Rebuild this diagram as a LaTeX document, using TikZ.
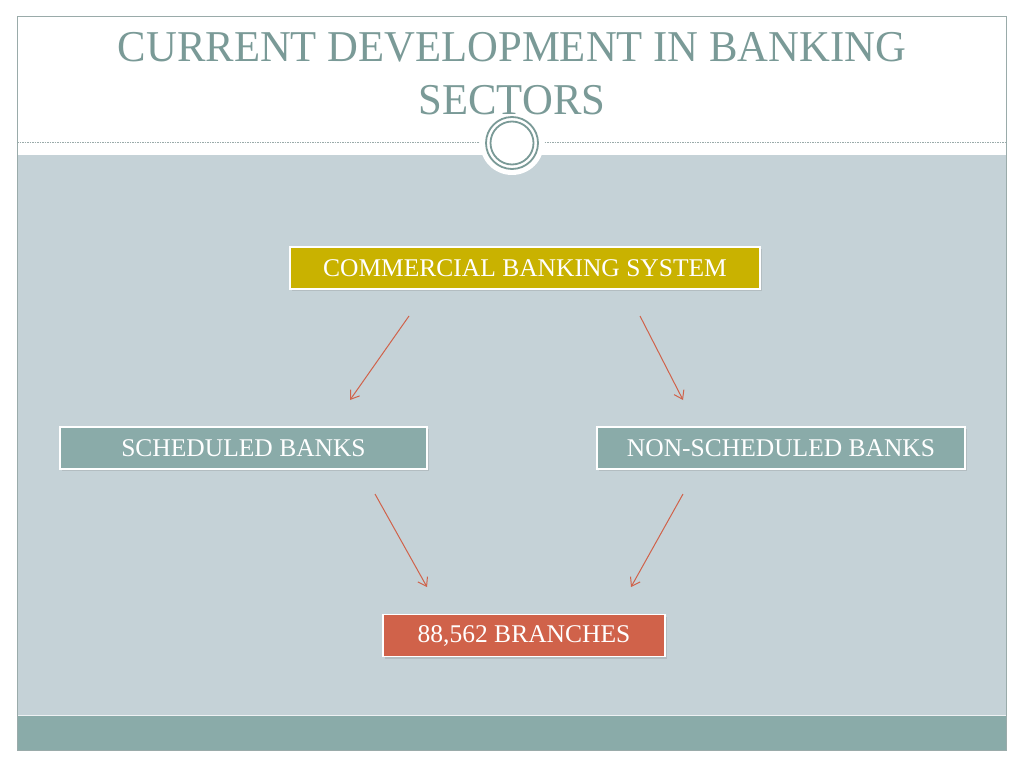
\documentclass[tikz,border=0pt]{standalone}
\usepackage{fontspec}
\setmainfont{Liberation Serif}
\usetikzlibrary{arrows.meta,shadows}
\definecolor{titlec}{HTML}{7A9A97}
\definecolor{bgray}{HTML}{C5D2D7}
\definecolor{teal}{HTML}{8AABA9}
\definecolor{gold}{HTML}{C9B200}
\definecolor{rust}{HTML}{D0624A}
\definecolor{framec}{HTML}{9AABAA}
\tikzset{
  box/.style={draw=white, line width=1.5pt, minimum height=42pt, inner sep=0pt,
    text=white, font=\fontsize{25.5}{25.5}\selectfont,
    drop shadow={shadow xshift=1.5pt, shadow yshift=-2pt, opacity=0.25}},
  conn/.style={draw=rust, line width=1pt, -{Straight Barb[length=8pt,width=11pt]}},
}
\begin{document}
\begin{tikzpicture}[x=1pt,y=-1pt]
\useasboundingbox (0,0) rectangle (1024,768);
\fill[white] (0,0) rectangle (1024,768);
% body areas
\fill[bgray] (17,155) rectangle (1006,715);
\fill[teal] (17,716) rectangle (1006,750);
\draw[white!70!bgray, line width=1pt] (17,715) -- (1006,715);
\draw[framec, line width=1pt] (17,17) rectangle (1006,750);
% dashed line
\draw[framec, line width=0.8pt, dash pattern=on 1.5pt off 1pt] (17,142) -- (1006,142);
% circle emblem
\fill[white] (512,143) circle (32);
\draw[titlec, line width=1.8pt] (512,143) circle (26);
\draw[titlec, line width=1.8pt] (512,143) circle (21.5);
% title
\node[text=titlec, font=\fontsize{44}{44}\selectfont, inner sep=0pt] (t1) at (512,47) {\addfontfeatures{FakeStretch=0.97}CURRENT DEVELOPMENT IN BANKING};
\node[text=titlec, font=\fontsize{44}{44}\selectfont, inner sep=0pt] (t2) at (512,100) {\addfontfeatures{FakeStretch=0.97}SECTORS};
% boxes
\node[box, fill=gold, minimum width=470pt] (cbs) at (525,268) {COMMERCIAL BANKING SYSTEM};
\node[box, fill=teal, minimum width=367pt] (sb) at (243.5,448) {SCHEDULED BANKS};
\node[box, fill=teal, minimum width=368pt] (nsb) at (781,448) {NON-SCHEDULED BANKS};
\node[box, fill=rust, minimum width=282pt] (br) at (524,635.5) {88,562 BRANCHES};
% arrows
\coordinate (a1s) at (409,316); \coordinate (a1e) at (350,400);
\coordinate (a2s) at (640,316); \coordinate (a2e) at (683,400);
\coordinate (a3s) at (375,494); \coordinate (a3e) at (427,587);
\coordinate (a4s) at (683,494); \coordinate (a4e) at (631,587);
\draw[conn] (a1s) -- (a1e);
\draw[conn] (a2s) -- (a2e);
\draw[conn] (a3s) -- (a3e);
\draw[conn] (a4s) -- (a4e);
\end{tikzpicture}
\end{document}
